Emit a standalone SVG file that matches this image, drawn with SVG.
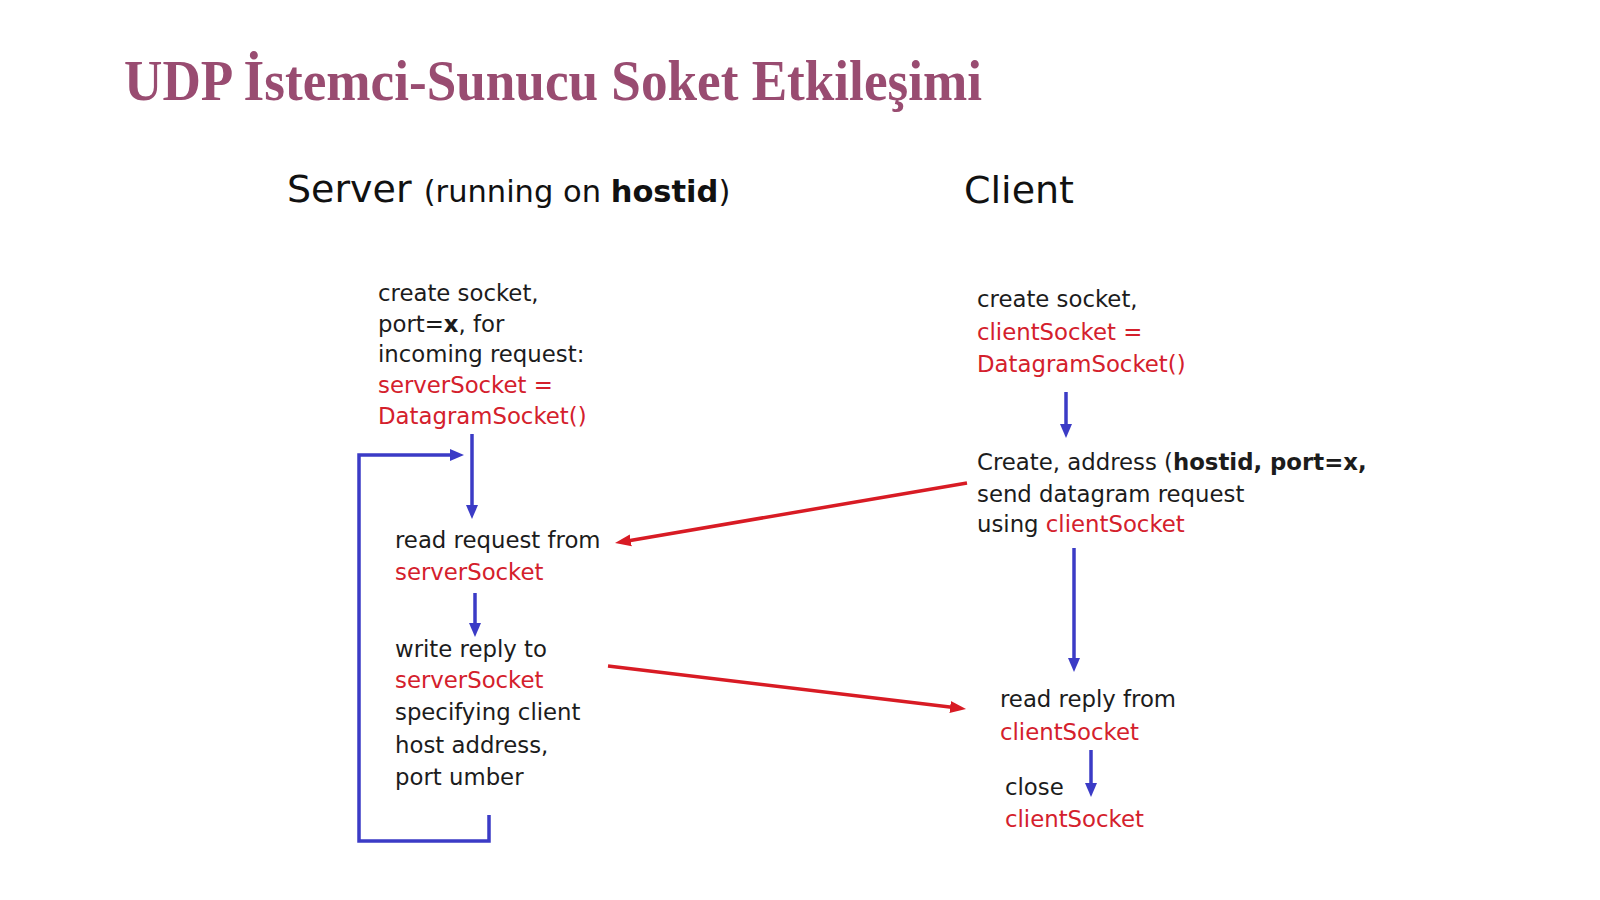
<svg xmlns="http://www.w3.org/2000/svg" width="1600" height="900" viewBox="0 0 1600 900">
  <style>
    .title { font-family: "Liberation Serif", "Times New Roman", serif; font-weight: bold; font-size: 56px; fill: #994c71; }
    .head { font-family: "DejaVu Sans", Verdana, sans-serif; font-size: 38px; fill: #111; }
    .sub { font-size: 30.5px; }
    .t { font-family: "DejaVu Sans", Verdana, sans-serif; font-size: 22.8px; fill: #1c1c1c; }
    .r { fill: #d4202c; }
    .b { font-weight: bold; }
    .flow { fill: none; stroke: #3b3bc6; stroke-width: 3.5; }
    .msg { fill: none; stroke: #d81b24; stroke-width: 3.5; }
  </style>
  <defs>
    <marker id="ah-blue" markerUnits="userSpaceOnUse" markerWidth="14" markerHeight="14" viewBox="0 0 14 14" refX="6" refY="7" orient="auto">
      <path d="M0,1 L14,7 L0,13 z" fill="#3b3bc6"/>
    </marker>
    <marker id="ah-red" markerUnits="userSpaceOnUse" markerWidth="16" markerHeight="14" viewBox="0 0 16 14" refX="8" refY="7" orient="auto">
      <path d="M0,1 L16,7 L0,13 z" fill="#d81b24"/>
    </marker>
  </defs>

  <rect width="1600" height="900" fill="#ffffff"/>

  <text class="title" x="124" y="100" textLength="858" lengthAdjust="spacingAndGlyphs">UDP İstemci-Sunucu Soket Etkileşimi</text>

  <g id="server-heading">
    <text class="head" x="287" y="202">Server <tspan class="sub">(running on </tspan><tspan class="sub b">hostid</tspan><tspan class="sub">)</tspan></text>
  </g>
  <g id="client-heading">
    <text class="head" x="964" y="203">Client</text>
  </g>

  <g id="server-create">
    <text class="t" x="378" y="301">create socket,</text>
    <text class="t" x="378" y="332">port=<tspan class="b">x</tspan>, for</text>
    <text class="t" x="378" y="362">incoming request:</text>
    <text class="t r" x="378" y="393">serverSocket =</text>
    <text class="t r" x="378" y="424">DatagramSocket()</text>
  </g>

  <g id="server-read">
    <text class="t" x="395" y="548">read request from</text>
    <text class="t r" x="395" y="580">serverSocket</text>
  </g>

  <g id="server-write">
    <text class="t" x="395" y="657">write reply to</text>
    <text class="t r" x="395" y="688">serverSocket</text>
    <text class="t" x="395" y="720">specifying client</text>
    <text class="t" x="395" y="753">host address,</text>
    <text class="t" x="395" y="785">port umber</text>
  </g>

  <g id="client-create">
    <text class="t" x="977" y="307">create socket,</text>
    <text class="t r" x="977" y="340">clientSocket =</text>
    <text class="t r" x="977" y="372">DatagramSocket()</text>
  </g>

  <g id="client-send">
    <text class="t" x="977" y="470">Create, address (<tspan class="b">hostid, port=x,</tspan></text>
    <text class="t" x="977" y="502">send datagram request</text>
    <text class="t" x="977" y="532">using <tspan class="r">clientSocket</tspan></text>
  </g>

  <g id="client-read">
    <text class="t" x="1000" y="707">read reply from</text>
    <text class="t r" x="1000" y="740">clientSocket</text>
  </g>

  <g id="client-close">
    <text class="t" x="1005" y="795">close</text>
    <text class="t r" x="1005" y="827">clientSocket</text>
  </g>

  <g id="connectors">
    <!-- server flow -->
    <line class="flow" x1="472" y1="434" x2="472" y2="511" marker-end="url(#ah-blue)"/>
    <path class="flow" d="M489,815 V841 H359 V455 H456" marker-end="url(#ah-blue)"/>
    <line class="flow" x1="475" y1="593" x2="475" y2="629" marker-end="url(#ah-blue)"/>
    <!-- client flow -->
    <line class="flow" x1="1066" y1="392" x2="1066" y2="430" marker-end="url(#ah-blue)"/>
    <line class="flow" x1="1074" y1="548" x2="1074" y2="664" marker-end="url(#ah-blue)"/>
    <line class="flow" x1="1091" y1="750" x2="1091" y2="789" marker-end="url(#ah-blue)"/>
    <!-- datagrams between client and server -->
    <line class="msg" x1="967" y1="483" x2="622.9" y2="541.7" marker-end="url(#ah-red)"/>
    <line class="msg" x1="608" y1="666" x2="958.1" y2="708" marker-end="url(#ah-red)"/>
  </g>
</svg>
